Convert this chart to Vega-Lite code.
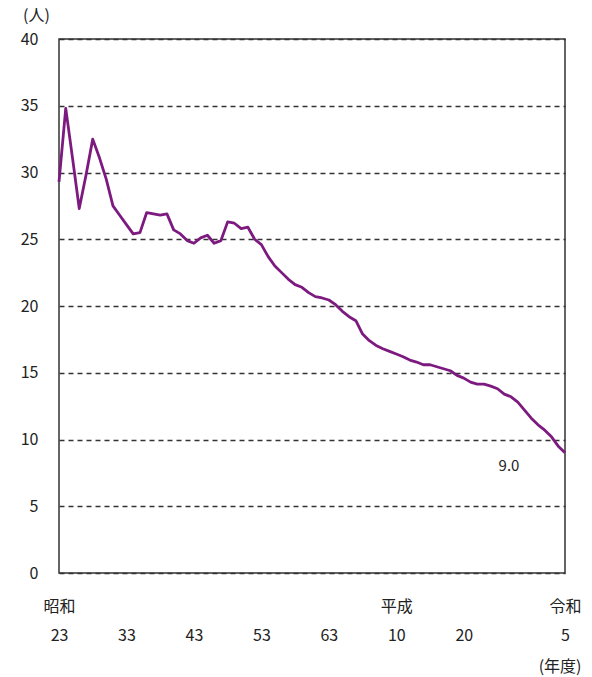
{
  "$schema": "https://vega.github.io/schema/vega-lite/v6.json",
  "width": 506,
  "height": 534,
  "autosize": {"type": "none"},
  "padding": {"left": 59, "top": 39, "right": 27, "bottom": 104},
  "background": "white",
  "config": {
    "view": {"stroke": "#333333", "strokeWidth": 1.5},
    "font": "Noto Sans CJK JP"
  },
  "data": {
    "values": [
      {"year": 1948, "v": 29.3}, {"year": 1949, "v": 34.8}, {"year": 1950, "v": 31.1},
      {"year": 1951, "v": 27.3}, {"year": 1952, "v": 29.8}, {"year": 1953, "v": 32.5},
      {"year": 1954, "v": 31.1}, {"year": 1955, "v": 29.5}, {"year": 1956, "v": 27.5},
      {"year": 1957, "v": 26.8}, {"year": 1958, "v": 26.1}, {"year": 1959, "v": 25.4},
      {"year": 1960, "v": 25.5}, {"year": 1961, "v": 27.0}, {"year": 1962, "v": 26.9},
      {"year": 1963, "v": 26.8}, {"year": 1964, "v": 26.9}, {"year": 1965, "v": 25.7},
      {"year": 1966, "v": 25.4}, {"year": 1967, "v": 24.9}, {"year": 1968, "v": 24.7},
      {"year": 1969, "v": 25.1}, {"year": 1970, "v": 25.3}, {"year": 1971, "v": 24.7},
      {"year": 1972, "v": 24.9}, {"year": 1973, "v": 26.3}, {"year": 1974, "v": 26.2},
      {"year": 1975, "v": 25.8}, {"year": 1976, "v": 25.9}, {"year": 1977, "v": 25.0},
      {"year": 1978, "v": 24.6}, {"year": 1979, "v": 23.7}, {"year": 1980, "v": 23.0},
      {"year": 1981, "v": 22.5}, {"year": 1982, "v": 22.0}, {"year": 1983, "v": 21.6},
      {"year": 1984, "v": 21.4}, {"year": 1985, "v": 21.0}, {"year": 1986, "v": 20.7},
      {"year": 1987, "v": 20.6}, {"year": 1988, "v": 20.45}, {"year": 1989, "v": 20.1},
      {"year": 1990, "v": 19.6}, {"year": 1991, "v": 19.2}, {"year": 1992, "v": 18.9},
      {"year": 1993, "v": 17.9}, {"year": 1994, "v": 17.4}, {"year": 1995, "v": 17.05},
      {"year": 1996, "v": 16.8}, {"year": 1997, "v": 16.6}, {"year": 1998, "v": 16.4},
      {"year": 1999, "v": 16.2}, {"year": 2000, "v": 15.95}, {"year": 2001, "v": 15.8},
      {"year": 2002, "v": 15.6}, {"year": 2003, "v": 15.6}, {"year": 2004, "v": 15.45},
      {"year": 2005, "v": 15.3}, {"year": 2006, "v": 15.15}, {"year": 2007, "v": 14.8},
      {"year": 2008, "v": 14.6}, {"year": 2009, "v": 14.3}, {"year": 2010, "v": 14.15},
      {"year": 2011, "v": 14.15}, {"year": 2012, "v": 14.0}, {"year": 2013, "v": 13.8},
      {"year": 2014, "v": 13.4}, {"year": 2015, "v": 13.2}, {"year": 2016, "v": 12.8},
      {"year": 2017, "v": 12.2}, {"year": 2018, "v": 11.6}, {"year": 2019, "v": 11.1},
      {"year": 2020, "v": 10.7}, {"year": 2021, "v": 10.2}, {"year": 2022, "v": 9.5},
      {"year": 2023, "v": 9.0}
    ]
  },
  "encoding": {
    "x": {
      "field": "year",
      "type": "quantitative",
      "scale": {"domain": [1948, 2023], "nice": false, "zero": false},
      "axis": {
        "values": [1948, 1958, 1968, 1978, 1988, 1998, 2008, 2023],
        "labelExpr": "datum.value == 1948 ? ['昭和', '23'] : datum.value == 1958 ? ['', '33'] : datum.value == 1968 ? ['', '43'] : datum.value == 1978 ? ['', '53'] : datum.value == 1988 ? ['', '63'] : datum.value == 1998 ? ['平成', '10'] : datum.value == 2008 ? ['', '20'] : ['令和', '5']",
        "labelLineHeight": 29,
        "labelFontSize": 16,
        "labelColor": "#222222",
        "labelPadding": 25,
        "labelFlush": false,
        "labelOverlap": false,
        "ticks": false,
        "domain": false,
        "grid": false,
        "title": "(年度)",
        "titleFontSize": 16,
        "titleFontWeight": "normal",
        "titleColor": "#222222",
        "titleAnchor": "end",
        "titleAlign": "right",
        "titleBaseline": "alphabetic",
        "titleX": 522,
        "titleY": 98
      }
    },
    "y": {
      "field": "v",
      "type": "quantitative",
      "scale": {"domain": [0, 40], "nice": false},
      "axis": {
        "values": [0, 5, 10, 15, 20, 25, 30, 35, 40],
        "labelFontSize": 16,
        "labelColor": "#222222",
        "labelPadding": 21,
        "ticks": false,
        "domain": false,
        "grid": true,
        "gridColor": "#333333",
        "gridDash": [5, 4],
        "gridWidth": 1.3,
        "title": "(人)",
        "titleAngle": 0,
        "titleFontSize": 16,
        "titleFontWeight": "normal",
        "titleColor": "#222222",
        "titleAlign": "center",
        "titleBaseline": "alphabetic",
        "titleX": -23,
        "titleY": -19
      }
    }
  },
  "layer": [
    {
      "mark": {"type": "line", "color": "#7d1a80", "strokeWidth": 2.8, "strokeJoin": "round"}
    },
    {
      "transform": [{"filter": "datum.year == 2023"}],
      "mark": {"type": "text", "dx": -56, "dy": 13, "fontSize": 15, "color": "#222222"},
      "encoding": {"text": {"field": "v", "type": "quantitative", "format": ".1f"}}
    }
  ]
}
